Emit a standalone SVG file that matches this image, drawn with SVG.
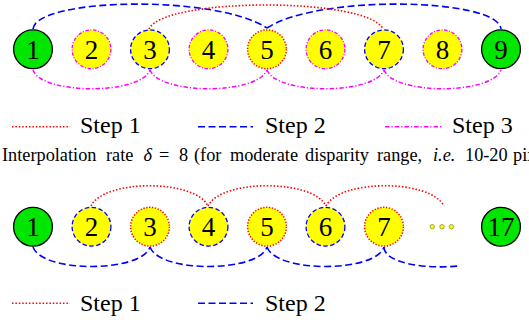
<svg xmlns="http://www.w3.org/2000/svg" width="529" height="320" viewBox="0 0 529 320">
<style>
.bg{fill:#fff}
.key{fill:#00e600;stroke:#000;stroke-width:1.3}
.bd{stroke:#0000ff;stroke-width:1.3;stroke-dasharray:4.5 2.5;fill:#ffff00}
.rd{stroke:#ff0000;stroke-width:1.5;stroke-dasharray:1.3 1.6;fill:#ffff00}
.md{stroke:#ff00ff;stroke-width:1.3;stroke-dasharray:3.5 1.6 1 1.6;fill:#ffff00}
.num{font-family:"Liberation Serif","DejaVu Serif",serif;font-size:27px;text-anchor:middle;fill:#000}
.a{fill:none}
.aR{stroke:#ff0000;stroke-width:1.6;stroke-dasharray:1.5 1.9}
.aB{stroke:#0000ff;stroke-width:1.6;stroke-dasharray:7 3.5}
.aM{stroke:#ff00ff;stroke-width:1.5;stroke-dasharray:4.5 2 1.2 2}
.lg{font-family:"Liberation Serif","Times New Roman",serif;font-size:24px;fill:#000}
.cap{font-family:"Liberation Serif","Times New Roman",serif;font-size:18.3px;fill:#000}
</style>
<rect class="bg" x="0" y="0" width="529" height="320"/>

<g id="connectors-top">
<path class="a aB" d="M33,29 C36,-2 215,-6 267,28"/>
<path class="a aB" d="M267,28 C319,-6 498,-2 501,29"/>
<path class="a aR" d="M149,29 C164,-3 368,-3 383,29"/>
<path class="a aM" d="M33,70 C42,95 141,95 150,70"/>
<path class="a aM" d="M150,70 C160,95 257,95 267,70"/>
<path class="a aM" d="M267,70 C277,95 374,95 384,70"/>
<path class="a aM" d="M384,70 C394,95 491,95 501,70"/>
</g>

<g id="t1"><circle class="key" cx="33" cy="49.3" r="19.4"/><text class="num" x="33" y="58.8">1</text></g>
<g id="t2"><circle class="md" cx="91.5" cy="49.3" r="19.4"/><text class="num" x="91.5" y="58.8">2</text></g>
<g id="t3"><circle class="bd" cx="150" cy="49.3" r="19.4"/><text class="num" x="150" y="58.8">3</text></g>
<g id="t4"><circle class="md" cx="208.5" cy="49.3" r="19.4"/><text class="num" x="208.5" y="58.8">4</text></g>
<g id="t5"><circle class="rd" cx="267" cy="49.3" r="19.4"/><text class="num" x="267" y="58.8">5</text></g>
<g id="t6"><circle class="md" cx="325.5" cy="49.3" r="19.4"/><text class="num" x="325.5" y="58.8">6</text></g>
<g id="t7"><circle class="bd" cx="384" cy="49.3" r="19.4"/><text class="num" x="384" y="58.8">7</text></g>
<g id="t8"><circle class="md" cx="442.5" cy="49.3" r="19.4"/><text class="num" x="442.5" y="58.8">8</text></g>
<g id="t9"><circle class="key" cx="501" cy="49.3" r="19.4"/><text class="num" x="501" y="58.8">9</text></g>

<g id="legend-top">
<line class="aR" x1="12" y1="126.7" x2="70" y2="126.7"/>
<text class="lg" x="80" y="133">Step 1</text>
<line class="aB" x1="198" y1="126.7" x2="253" y2="126.7"/>
<text class="lg" x="265" y="133">Step 2</text>
<line class="aM" x1="385" y1="126.7" x2="441" y2="126.7"/>
<text class="lg" x="452" y="133">Step 3</text>
</g>

<text class="cap" y="160.7"><tspan x="2">Interpolation</tspan><tspan x="106">rate</tspan><tspan x="143.5" font-style="italic">δ</tspan><tspan x="159">=</tspan><tspan x="179">8</tspan><tspan x="194">(for</tspan><tspan x="230">moderate</tspan><tspan x="305">disparity</tspan><tspan x="377">range,</tspan><tspan x="433" font-style="italic">i.e.</tspan><tspan x="465">10-20</tspan><tspan x="513">pix</tspan></text>

<g id="connectors-bottom">
<path class="a aR" d="M91,206 C104,179 195,179 208,206"/>
<path class="a aR" d="M208,206 C221,179 313,179 326,206"/>
<path class="a aR" d="M326,206 C340,179 430,179 444,206"/>
<path class="a aB" d="M33,247 C42,273 141,273 150,247"/>
<path class="a aB" d="M150,247 C159,273 258,273 267,247"/>
<path class="a aB" d="M267,247 C276,273 375,273 384,247"/>
<path class="a aB" d="M384,247 C384,263.2 426.1,269.5 459.8,265.9"/>
</g>

<g id="b1"><circle class="key" cx="33" cy="226.7" r="19.4"/><text class="num" x="33" y="236.2">1</text></g>
<g id="b2"><circle class="bd" cx="91.5" cy="226.7" r="19.4"/><text class="num" x="91.5" y="236.2">2</text></g>
<g id="b3"><circle class="rd" cx="150" cy="226.7" r="19.4"/><text class="num" x="150" y="236.2">3</text></g>
<g id="b4"><circle class="bd" cx="208.5" cy="226.7" r="19.4"/><text class="num" x="208.5" y="236.2">4</text></g>
<g id="b5"><circle class="rd" cx="267" cy="226.7" r="19.4"/><text class="num" x="267" y="236.2">5</text></g>
<g id="b6"><circle class="bd" cx="325.5" cy="226.7" r="19.4"/><text class="num" x="325.5" y="236.2">6</text></g>
<g id="b7"><circle class="rd" cx="384" cy="226.7" r="19.4"/><text class="num" x="384" y="236.2">7</text></g>
<g id="bdots">
<circle cx="432.3" cy="226.7" r="2.2" fill="#ffff00" stroke="#a09a30" stroke-width="0.9"/>
<circle cx="442" cy="226.7" r="2.2" fill="#ffff00" stroke="#a09a30" stroke-width="0.9"/>
<circle cx="451.3" cy="226.7" r="2.2" fill="#ffff00" stroke="#a09a30" stroke-width="0.9"/>
</g>
<g id="b17"><circle class="key" cx="501" cy="226.7" r="19.4"/><text class="num" x="501" y="236.2">17</text></g>

<g id="legend-bottom">
<line class="aR" x1="12" y1="303.3" x2="70" y2="303.3"/>
<text class="lg" x="80" y="311">Step 1</text>
<line class="aB" x1="198" y1="303.3" x2="253" y2="303.3"/>
<text class="lg" x="265" y="311">Step 2</text>
</g>
</svg>
